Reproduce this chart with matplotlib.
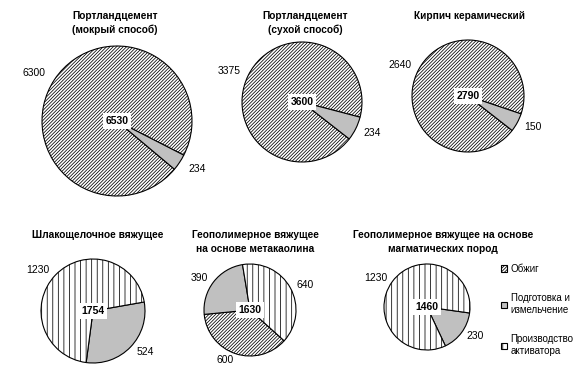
import matplotlib.pyplot as plt
from matplotlib.patches import Patch

plt.rcParams['font.family'] = ['Liberation Sans', 'DejaVu Sans']
plt.rcParams['hatch.linewidth'] = 0.55

W, H = 586, 379

titles = ['Портландцемент\n(мокрый способ)', 'Портландцемент\n(сухой способ)',
          'Кирпич керамический', 'Шлакощелочное вяжущее',
          'Геополимерное вяжущее\nна основе метакаолина',
          'Геополимерное вяжущее на основе\nмагматических пород']
categories = ['Обжиг', 'Подготовка и\nизмельчение', 'Производство\nактиватора']
obzhig = [6300, 3375, 2640, 0, 600, 0]
podgotovka = [234, 234, 150, 524, 390, 230]
aktivator = [0, 0, 0, 1230, 640, 1230]
totals = [6530, 3600, 2790, 1754, 1630, 1460]

#- layout in pixels: x, y from top, radius
pies = [(117, 121, 75), (302, 102, 60), (468, 96, 56),
        (93, 311, 52), (250, 310, 46), (427, 307, 43)]
starts = [-40, -38, -38, 10, -42, -8]
title_pos = [(115, 23), (305, 23), (470, 16), (98, 235), (255, 242), (443, 242)]

fills = [dict(facecolor='white', hatch='//////////'),
         dict(facecolor='#c0c0c0', hatch=None),
         dict(facecolor='white', hatch='|||')]

fig = plt.figure(figsize=(W / 100, H / 100), dpi=100)
ax = fig.add_axes([0, 0, 1, 1])

for i in range(len(titles)):
    vals = [obzhig[i], podgotovka[i], aktivator[i]]
    keep = [k for k in range(3) if vals[k] > 0]
    cx, cy, r = pies[i]
    wedges, texts = ax.pie([vals[k] for k in keep],
                           labels=[str(vals[k]) for k in keep],
                           center=(cx, H - cy), radius=r,
                           startangle=starts[i], counterclock=False,
                           labeldistance=1.15,
                           textprops=dict(fontsize=7.5),
                           wedgeprops=dict(edgecolor='black', linewidth=0.8))
    for w, k in zip(wedges, keep):
        w.set_facecolor(fills[k]['facecolor'])
        w.set_hatch(fills[k]['hatch'])
    # pie() decides alignment from x > 0, which is always true here
    for t in texts:
        t.set_ha('left' if t.get_position()[0] > cx else 'right')
    ax.text(cx, H - cy, str(totals[i]), ha='center', va='center',
            fontsize=7.5, fontweight='bold', zorder=5,
            bbox=dict(facecolor='white', edgecolor='none', pad=2))
    tx, ty = title_pos[i]
    ax.text(tx, H - ty, titles[i], ha='center', va='center',
            fontsize=7.3, fontweight='bold', linespacing=1.45)

handles = [Patch(facecolor=f['facecolor'], hatch=f['hatch'], edgecolor='black', linewidth=0.8)
           for f in fills]
ax.legend(handles, categories, loc='upper left', bbox_to_anchor=(501, H - 264),
          bbox_transform=ax.transData, frameon=False, fontsize=7,
          handlelength=0.65, handleheight=0.65, handletextpad=0.35,
          labelspacing=2.0, borderpad=0, borderaxespad=0)

ax.set_xlim(0, W)
ax.set_ylim(0, H)
ax.set_aspect('equal')
ax.axis('off')

plt.savefig('out.png', dpi=100)
